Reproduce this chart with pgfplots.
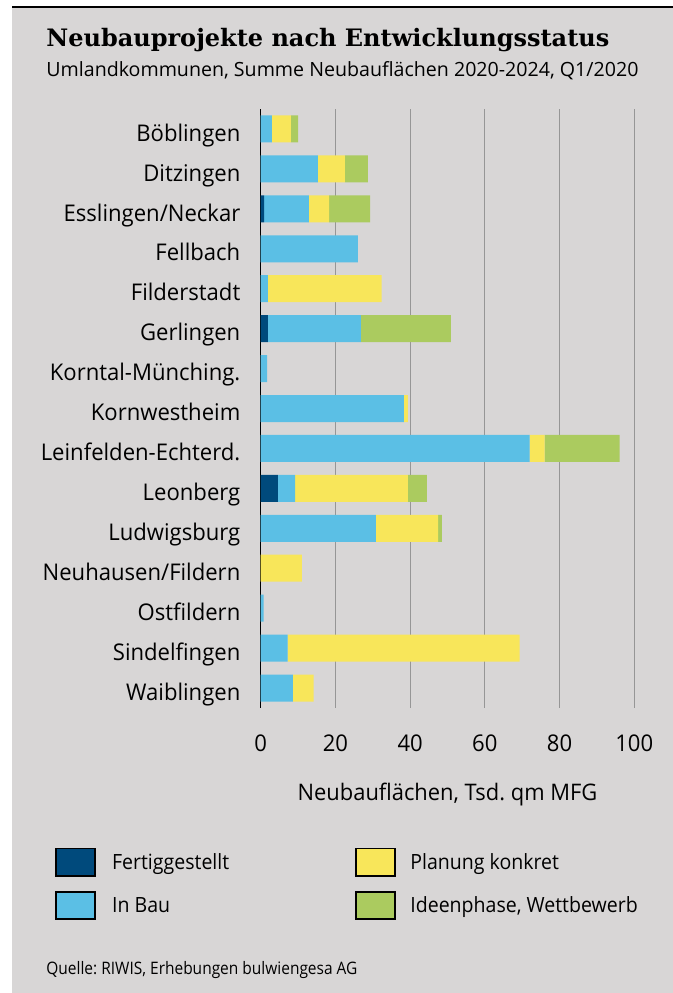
\documentclass[border=0pt]{standalone}
\usepackage{pgfplots}
\pgfplotsset{compat=1.18}
\usepackage{pgfplotstable}
\usepackage{fontspec}
\setmainfont{Open Sans}
\newfontfamily\titlefont{DejaVu Serif}
\newfontfamily\osA{Open Sans}[FakeStretch=0.96]
\newfontfamily\osL{Open Sans}[FakeStretch=0.93]
\newfontfamily\osQ{Open Sans}[FakeStretch=0.9]
\frenchspacing

\definecolor{bg}{RGB}{216,214,214}
\definecolor{fert}{RGB}{0,74,124}
\definecolor{bau}{RGB}{91,191,229}
\definecolor{plan}{RGB}{248,230,90}
\definecolor{idee}{RGB}{171,203,95}
\definecolor{gridgray}{RGB}{150,150,150}

% Neubauflaechen in Tsd. qm MFG, Zeile 1 = Boeblingen ... 15 = Waiblingen
\pgfplotstableread{
y  fert bau  plan idee
1  0    3.0  5.1  1.9
2  0    15.3 7.2  6.2
3  0.9  12.0 5.4  11.0
4  0    26.0 0    0
5  0    1.9  30.5 0
6  1.9  24.9 0    24.1
7  0    1.7  0    0
8  0    38.3 1.1  0
9  0    72.0 4.0  20.1
10 4.6  4.6  30.2 5.1
11 0    30.8 16.7 1.0
12 0    0    11.0 0
13 0    0.8  0    0
14 0    7.2  62.1 0
15 0    8.6  5.6  0
}\datatable

\begin{document}
\begin{tikzpicture}
% Hintergrund (1 px = 0.5 pt)
\path[use as bounding box, fill=white] (0,0) rectangle (336.5pt,496.5pt);
\fill[bg] (6pt,0) rectangle (336.5pt,492.5pt);
\draw[black, line width=0.75pt] (6pt,493pt) -- (336.5pt,493pt);

\node[anchor=base west, inner sep=0pt] at (23pt,473.15pt)
  {\titlefont\bfseries\fontsize{12pt}{14pt}\selectfont Neubauprojekte nach Entwicklungsstatus};
\node[anchor=base west, inner sep=0pt] at (23pt,458.15pt)
  {\fontsize{9.8pt}{12pt}\selectfont Umlandkommunen, Summe Neubauflächen 2020-2024, Q1/2020};

\begin{axis}[
  at={(130.35pt,142.5pt)}, anchor=south west,
  scale only axis, width=186.8pt, height=299.5pt,
  xbar stacked, bar width=13.5pt,
  xmin=0, xmax=100, xtick={0,20,...,100},
  ymin=0.5, ymax=15.5, y dir=reverse,
  ytick={1,...,15},
  yticklabels={Böblingen, Ditzingen, Esslingen/Neckar, Fellbach, Filderstadt,
    Gerlingen, Korntal-Münching., Kornwestheim, Leinfelden-Echterd., Leonberg,
    Ludwigsburg, Neuhausen/Fildern, Ostfildern, Sindelfingen, Waiblingen},
  axis lines*=left,
  x axis line style={draw=none},
  y axis line style={black, line width=0.5pt},
  major tick length=0pt,
  xmajorgrids, grid style={gridgray, line width=0.6pt},
  /pgf/number format/assume math mode=true,
  tick label style={font=\osA\fontsize{11.5pt}{13pt}\selectfont, inner sep=0pt},
  xticklabel style={anchor=base, yshift=-21.85pt},
  yticklabel style={anchor=base east, xshift=-10pt, yshift=-6.1pt},
  xlabel={Neubauflächen, Tsd. qm MFG},
  xlabel style={at={(axis description cs:0.5,0)}, anchor=base, inner sep=0pt,
    yshift=-46.35pt, font=\osA\fontsize{11.4pt}{13pt}\selectfont},
  every axis plot/.append style={draw=none},
]
\addplot[fill=fert] table[x=fert, y=y] {\datatable};
\addplot[fill=bau]  table[x=bau,  y=y] {\datatable};
\addplot[fill=plan] table[x=plan, y=y] {\datatable};
\addplot[fill=idee] table[x=idee, y=y] {\datatable};
\end{axis}

% Legende
\begin{scope}[every node/.style={anchor=base west, inner sep=0pt, font=\osL\fontsize{10.5pt}{12pt}\selectfont}]
\draw[fill=fert, line width=0.85pt] (27.9pt,58.55pt) rectangle (47.45pt,72.25pt);
\node at (55.85pt,61.5pt) {Fertiggestellt};
\draw[fill=bau, line width=0.85pt] (27.9pt,36.9pt) rectangle (47.45pt,50.6pt);
\node at (55.85pt,40.15pt) {In Bau};
\draw[fill=plan, line width=0.85pt] (177.9pt,58.55pt) rectangle (197.45pt,72.25pt);
\node at (205pt,61.5pt) {Planung konkret};
\draw[fill=idee, line width=0.85pt] (177.9pt,36.9pt) rectangle (197.45pt,50.6pt);
\node at (205pt,40.15pt) {Ideenphase, Wettbewerb};
\end{scope}

\node[anchor=base west, inner sep=0pt] at (23pt,9.35pt)
  {\osQ\fontsize{8.6pt}{10pt}\selectfont Quelle: RIWIS, Erhebungen bulwiengesa AG};
\end{tikzpicture}
\end{document}
